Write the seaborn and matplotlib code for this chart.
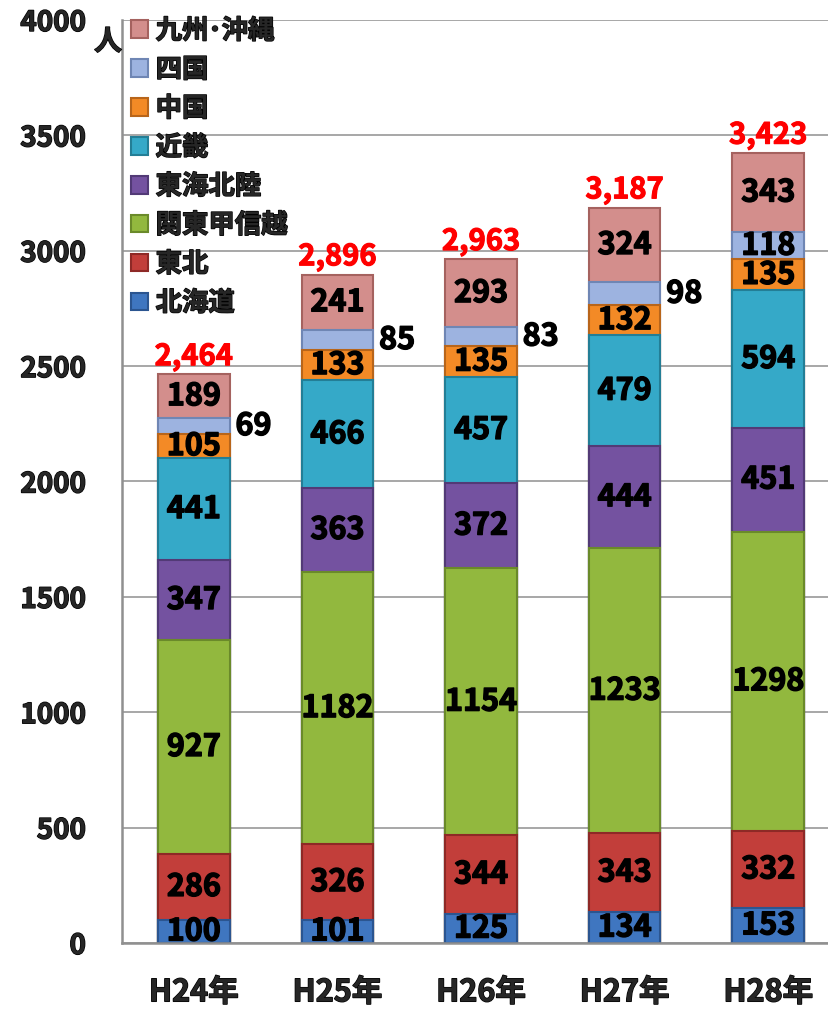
import numpy as np
import pandas as pd
import matplotlib
matplotlib.use("Agg")
import matplotlib.pyplot as plt
import matplotlib.patheffects as pe
import seaborn as sns

# data
years = ["H24年", "H25年", "H26年", "H27年", "H28年"]
regions = ["北海道", "東北", "関東甲信越", "東海北陸", "近畿", "中国", "四国", "九州･沖縄"]
hokkaido = [100, 101, 125, 134, 153]
tohoku = [286, 326, 344, 343, 332]
kanto = [927, 1182, 1154, 1233, 1298]
tokai = [347, 363, 372, 444, 451]
kinki = [441, 466, 457, 479, 594]
chugoku = [105, 133, 135, 132, 135]
shikoku = [69, 85, 83, 98, 118]
kyushu = [189, 241, 293, 324, 343]
totals = ["2,464", "2,896", "2,963", "3,187", "3,423"]

colors = ["#3F76C0", "#C23E3A", "#92B83E", "#7452A0",
          "#35A9C8", "#F38A26", "#9DB3E0", "#D38E8C"]
edges = ["#2B5590", "#8E2926", "#6A8A2A", "#523A76",
         "#237E96", "#B8651A", "#6F86B4", "#A5625F"]

sns.set_style("white")
plt.rcParams['font.family'] = ['Noto Sans CJK JP', 'DejaVu Sans']
plt.rcParams['font.weight'] = 'bold'

# thicken the text a bit, the original font is very heavy
heavy = [pe.withStroke(linewidth=1.0, foreground="black")]
heavy_red = [pe.withStroke(linewidth=0.8, foreground="#FF0000")]

series = [hokkaido, tohoku, kanto, tokai, kinki, chugoku, shikoku, kyushu]
df = pd.DataFrame(dict(zip(regions, series)), index=years)
cum = df.cumsum(axis=1)

fig = plt.figure(figsize=(8.29, 10.11), dpi=100)
ax = fig.add_axes([122 / 829, 1 - 943 / 1011, 718 / 829, 923 / 1011])

# draw from top layer down so each bar sits over the one beneath
for i in range(len(regions) - 1, -1, -1):
    sns.barplot(x=years, y=cum[regions[i]].values, color=colors[i], width=0.5,
                saturation=1, edgecolor=edges[i], linewidth=1.5, ax=ax,
                label=regions[i], zorder=2)

# segment labels
for j, yr in enumerate(years):
    for i, r in enumerate(regions):
        v = df.loc[yr, r]
        mid = cum.loc[yr, r] - v / 2
        if r == "四国" and v < 100:
            ax.text(j + 0.29, mid, str(v), ha="left", va="center", fontsize=22,
                    color="black", zorder=5, path_effects=heavy)
        else:
            ax.text(j, mid, str(v), ha="center", va="center", fontsize=22,
                    color="black", zorder=5, path_effects=heavy)
    ax.text(j, cum.loc[yr].iloc[-1] + 12, totals[j], ha="center", va="bottom",
            fontsize=21, color="#FF0000", zorder=5, path_effects=heavy_red)

ax.set_xlim(-0.5, 4.5)
ax.set_ylim(0, 4000)
ax.set_yticks(np.arange(0, 4001, 500))
ax.yaxis.grid(True, color="#A0A0A0", linewidth=1.3, zorder=0)
ax.set_axisbelow(True)
for s in ["top", "right"]:
    ax.spines[s].set_visible(False)
for s in ["left", "bottom"]:
    ax.spines[s].set_color("#909090")
    ax.spines[s].set_linewidth(1.8)
ax.tick_params(axis="y", labelsize=20, length=0, pad=26)
ax.tick_params(axis="x", labelsize=22, length=0, pad=24)
ax.set_xlabel("")
for t in ax.get_yticklabels() + ax.get_xticklabels():
    t.set_path_effects(heavy)

fig.text(108 / 829, 1 - 42 / 1011, "人", fontsize=20, ha="center",
         va="center", path_effects=heavy)

handles, labels = ax.get_legend_handles_labels()
leg = ax.legend(handles, labels, loc="upper left",
                bbox_to_anchor=(120 / 829, 1 - 7 / 1011),
                bbox_transform=fig.transFigure, frameon=False, borderaxespad=0,
                prop={"size": 19, "weight": "bold"}, handlelength=0.65,
                handleheight=0.65, handletextpad=0.3, labelspacing=0.45)
for t in leg.get_texts():
    t.set_path_effects(heavy)

fig.savefig("out.png", dpi=100)
